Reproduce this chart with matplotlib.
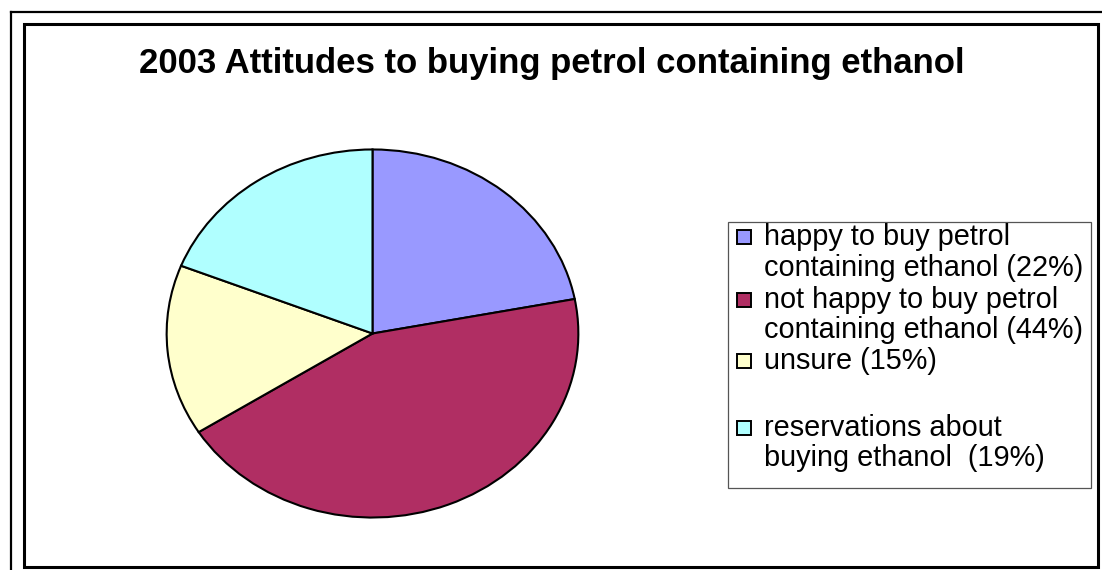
import matplotlib
matplotlib.use("Agg")
import matplotlib.pyplot as plt
from matplotlib.patches import Rectangle
from matplotlib.lines import Line2D

# Survey shares (percent)
categories = [
    "happy to buy petrol\ncontaining ethanol (22%)",
    "not happy to buy petrol\ncontaining ethanol (44%)",
    "unsure (15%)\n",
    "reservations about\nbuying ethanol  (19%)",
]
shares = [22, 44, 15, 19]
colors = ["#9999FF", "#B02E63", "#FFFFCC", "#B0FFFF"]
title = "2003 Attitudes to buying petrol containing ethanol"

W, H = 1102, 570
plt.rcParams["font.family"] = ["Liberation Sans", "DejaVu Sans"]
fig = plt.figure(figsize=(W / 100, H / 100), dpi=100)
fig.patch.set_facecolor("white")

# Overlay in pixel coordinates for frames, title and legend
ov = fig.add_axes([0, 0, 1, 1])
ov.set_xlim(0, W)
ov.set_ylim(H, 0)
ov.axis("off")

# Outer page frame lines
ov.add_line(Line2D([11, 11], [12, H + 5], color="black", lw=1.6))
ov.add_line(Line2D([11, W + 5], [12, 12], color="black", lw=1.6))
# Chart area border
ov.add_patch(Rectangle((23.5, 23.5), 1074, 543, fill=False, ec="black", lw=2.2))

ov.text(552, 63, title, ha="center", va="center", fontsize=25,
        fontweight="bold", color="black")

# Pie (elliptical, stretched to its axes box)
ax = fig.add_axes([165 / W, 1 - 519 / H, 415 / W, 371 / H])
ax.pie(shares, colors=colors, startangle=90, counterclock=False, radius=1,
       wedgeprops=dict(edgecolor="black", linewidth=1.5))
ax.set_aspect("auto")
ax.set_xlim(-1.008, 1.008)
ax.set_ylim(-1.008, 1.008)
ax.axis("off")

# Legend box
ov.add_patch(Rectangle((728, 222), 363, 266, fill=False, ec="#555555", lw=0.9))
line_pitch = 30.5
entry_tops = [237, 300, 361, 428]
for lbl, col, y0 in zip(categories, colors, entry_tops):
    ov.add_patch(Rectangle((736.5, y0 - 7), 14, 14, fc=col, ec="black", lw=1.4))
    for k, line in enumerate(lbl.split("\n")):
        if line:
            ov.text(764, y0 + k * line_pitch, line, ha="left", va="center",
                    fontsize=20.8, color="black")

fig.savefig("out.png", dpi=100)
